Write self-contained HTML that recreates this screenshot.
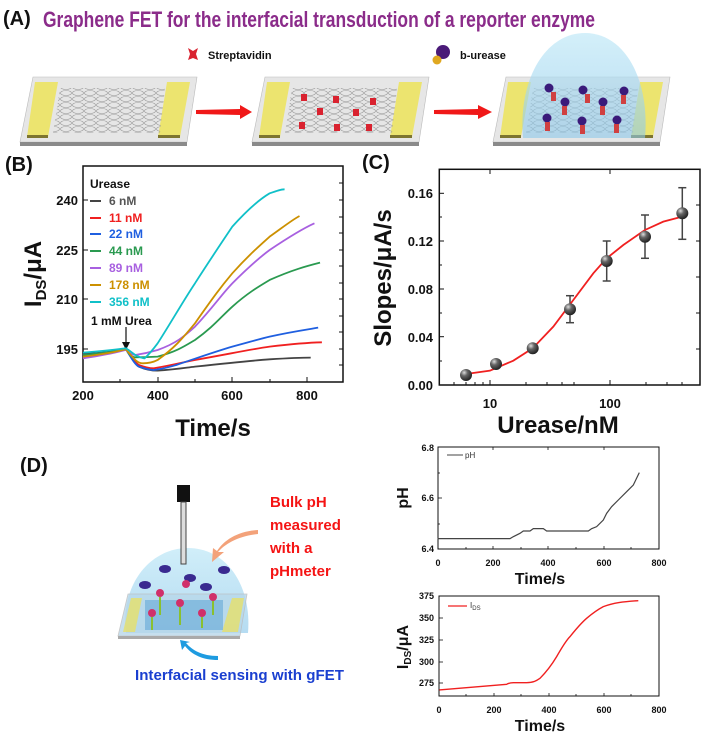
<!DOCTYPE html>
<html><head><meta charset="utf-8"><style>
html,body{margin:0;padding:0;background:#fff;}
svg{display:block;font-family:"Liberation Sans",sans-serif;}
.nb{vector-effect:non-scaling-stroke;fill:none;}
</style></head><body>
<svg width="707" height="736" viewBox="0 0 707 736" xmlns="http://www.w3.org/2000/svg">
<defs>
<pattern id="hex" width="12" height="6" patternUnits="userSpaceOnUse">
<ellipse cx="6" cy="3" rx="5.5" ry="2.5" fill="none" stroke="#999" stroke-width="0.6"/>
</pattern>
<radialGradient id="ball" cx="0.35" cy="0.3" r="0.7"><stop offset="0" stop-color="#ddd"/><stop offset="0.4" stop-color="#666"/><stop offset="1" stop-color="#222"/></radialGradient>
<linearGradient id="dome" x1="0" y1="0" x2="0" y2="1"><stop offset="0" stop-color="#bfe8f7" stop-opacity="0.85"/><stop offset="1" stop-color="#8cc8ea" stop-opacity="0.75"/></linearGradient>
</defs>

<!-- Panel A -->
<text x="3" y="25" font-size="20" font-weight="bold" fill="#111">(A)</text>
<text x="43" y="27" font-size="22" font-weight="bold" fill="#8b2c8a" textLength="552" lengthAdjust="spacingAndGlyphs">Graphene FET for the interfacial transduction of a reporter enzyme</text>

<g id="chip">
<polygon points="33,77 197,77 187,142 20,142" fill="#e6e6e6" stroke="#bbb" stroke-width="0.6"/>
<polygon points="20,142 187,142 187,146 20,146" fill="#8a8a8a"/>
<polygon points="35,82 58,82 48,137 27,137" fill="#ece46f"/>
<polygon points="27,135 48,135 48,138 27,138" fill="#7d7530"/>
<polygon points="167,82 190,82 180,137 158,137" fill="#ece46f"/>
<polygon points="158,135 180,135 180,138 158,138" fill="#7d7530"/>
<polygon points="60,88 165,88 160,133 53,133" fill="url(#hex)"/>
</g>
<use href="#chip" x="232"/>
<use href="#chip" x="473"/>

<!-- arrows -->
<polygon points="196,110 240,109 240,105 252,112 240,119 240,115 196,114" fill="#f01818"/>
<polygon points="434,110 478,109 478,105 492,112 478,119 478,115 434,114" fill="#f01818"/>

<!-- streptavidin -->
<g fill="#d9222f">
<polygon points="188,48 193,51 198,48 196,54 198,60 193,58 188,60 190,54"/>
<rect x="301" y="94" width="6" height="7"/><rect x="333" y="96" width="6" height="7"/><rect x="370" y="98" width="6" height="7"/>
<rect x="317" y="108" width="6" height="7"/><rect x="353" y="109" width="6" height="7"/>
<rect x="299" y="122" width="6" height="7"/><rect x="334" y="124" width="6" height="7"/><rect x="366" y="124" width="6" height="7"/>
</g>
<text x="208" y="59" font-size="11" font-weight="bold" fill="#111">Streptavidin</text>
<circle cx="443" cy="52" r="7" fill="#4a1a78"/><circle cx="437" cy="60" r="4.5" fill="#e0a820"/>
<text x="460" y="59" font-size="11" font-weight="bold" fill="#111">b-urease</text>
<!-- dome chip3 -->
<path d="M523,138 C518,80 545,33 585,33 C625,33 650,80 645,138 Z" fill="url(#dome)" opacity="0.8"/>
<g fill="#3a1a7a">
<circle cx="549" cy="88" r="4.5"/><circle cx="583" cy="90" r="4.5"/><circle cx="624" cy="91" r="4.5"/>
<circle cx="565" cy="102" r="4.5"/><circle cx="603" cy="102" r="4.5"/>
<circle cx="547" cy="118" r="4.5"/><circle cx="582" cy="121" r="4.5"/><circle cx="617" cy="120" r="4.5"/>
</g>
<g fill="#d04040">
<rect x="551" y="92" width="5" height="9"/><rect x="585" y="94" width="5" height="9"/><rect x="621" y="95" width="5" height="9"/>
<rect x="562" y="106" width="5" height="9"/><rect x="600" y="106" width="5" height="9"/>
<rect x="545" y="122" width="5" height="9"/><rect x="580" y="125" width="5" height="9"/><rect x="614" y="124" width="5" height="9"/>
</g>

<!-- Panel B -->
<text x="5" y="171" font-size="20" font-weight="bold" fill="#111">(B)</text>
<rect x="83" y="166" width="260" height="216" fill="none" stroke="#111" stroke-width="1.5"/>
<g stroke="#111" stroke-width="1">
<line x1="158" y1="382" x2="158" y2="377"/><line x1="232" y1="382" x2="232" y2="377"/><line x1="307" y1="382" x2="307" y2="377"/>
<line x1="120" y1="382" x2="120" y2="379"/><line x1="195" y1="382" x2="195" y2="379"/><line x1="270" y1="382" x2="270" y2="379"/>
<line x1="83" y1="200" x2="88" y2="200"/><line x1="83" y1="250" x2="88" y2="250"/><line x1="83" y1="299" x2="88" y2="299"/><line x1="83" y1="349" x2="88" y2="349"/>
<line x1="343" y1="183" x2="339" y2="183"/><line x1="343" y1="200" x2="339" y2="200"/><line x1="343" y1="217" x2="339" y2="217"/><line x1="343" y1="233" x2="339" y2="233"/><line x1="343" y1="250" x2="339" y2="250"/><line x1="343" y1="266" x2="339" y2="266"/><line x1="343" y1="283" x2="339" y2="283"/><line x1="343" y1="299" x2="339" y2="299"/><line x1="343" y1="316" x2="339" y2="316"/><line x1="343" y1="332" x2="339" y2="332"/><line x1="343" y1="349" x2="339" y2="349"/><line x1="343" y1="365" x2="339" y2="365"/>
</g>
<g font-size="13" font-weight="bold" fill="#111" text-anchor="end">
<text x="78" y="205">240</text><text x="78" y="255">225</text><text x="78" y="304">210</text><text x="78" y="354">195</text>
</g>
<g font-size="13" font-weight="bold" fill="#111" text-anchor="middle">
<text x="83" y="400">200</text><text x="158" y="400">400</text><text x="232" y="400">600</text><text x="307" y="400">800</text>
</g>
<text x="213" y="436" font-size="24" font-weight="bold" text-anchor="middle" fill="#111">Time/s</text>
<text transform="translate(41,274) rotate(-90)" font-size="24" font-weight="bold" text-anchor="middle" fill="#111">I<tspan font-size="15" dy="5">DS</tspan><tspan dy="-5">/μA</tspan></text>
<g font-size="12" font-weight="bold">
<text x="90" y="188" fill="#111">Urease</text>
<text x="109" y="205" fill="#555">6 nM</text>
<text x="109" y="222" fill="#f02020">11 nM</text>
<text x="109" y="238" fill="#1f5fe0">22 nM</text>
<text x="109" y="255" fill="#2a9a50">44 nM</text>
<text x="109" y="272" fill="#a860e0">89 nM</text>
<text x="109" y="289" fill="#cc9000">178 nM</text>
<text x="109" y="306" fill="#10c0c8">356 nM</text>
<text x="91" y="325" fill="#111" font-weight="bold" font-size="12">1 mM Urea</text>
</g>
<g stroke-width="2">
<line x1="90" y1="201" x2="101" y2="201" stroke="#444"/>
<line x1="90" y1="218" x2="101" y2="218" stroke="#f02020"/>
<line x1="90" y1="234" x2="101" y2="234" stroke="#1f5fe0"/>
<line x1="90" y1="251" x2="101" y2="251" stroke="#2a9a50"/>
<line x1="90" y1="268" x2="101" y2="268" stroke="#a860e0"/>
<line x1="90" y1="285" x2="101" y2="285" stroke="#cc9000"/>
<line x1="90" y1="302" x2="101" y2="302" stroke="#10c0c8"/>
</g>
<line x1="126" y1="327" x2="126" y2="343" stroke="#111" stroke-width="1.2"/>
<polygon points="122,342 130,342 126,350" fill="#111"/>
<g transform="translate(0,150) scale(0.3333) translate(25,0) scale(1.12,1)" stroke-width="1.8">
<path class="nb" stroke="#444" d="M200,612 C290,606 310,598 315,598 C330,620 340,645 350,650 C370,660 390,662 400,662 C450,658 470,654 500,650 C600,638 650,632 700,628 C760,624 790,623 810,623"/>
<path class="nb" stroke="#f02020" d="M200,620 C290,608 310,598 315,598 C330,620 340,640 350,645 C370,654 385,655 390,655 C450,643 470,636 500,630 C600,610 650,598 700,590 C760,582 800,578 840,577"/>
<path class="nb" stroke="#1f5fe0" d="M200,615 C290,606 310,598 315,598 C330,625 340,645 350,650 C370,658 385,660 390,660 C420,656 430,651 450,645 C530,615 560,603 600,590 C650,575 670,568 700,560 C760,545 800,539 830,533"/>
<path class="nb" stroke="#2a9a50" d="M200,615 C290,606 310,598 315,598 C325,615 330,622 340,622 C370,622 385,621 400,620 C450,605 470,590 500,570 C550,530 570,500 600,470 C640,430 670,410 700,390 C760,360 800,348 835,338"/>
<path class="nb" stroke="#a860e0" d="M200,625 C290,610 310,600 315,600 C325,610 330,615 340,615 C370,610 385,605 400,600 C450,580 470,560 500,530 C550,470 570,435 600,400 C640,355 670,325 700,300 C760,255 790,235 820,220"/>
<path class="nb" stroke="#cc9000" d="M200,620 C290,608 310,598 315,598 C335,625 345,640 360,640 C380,640 390,636 400,630 C450,590 470,560 500,520 C550,440 570,410 600,370 C640,320 670,290 700,260 C740,228 760,210 780,198"/>
<path class="nb" stroke="#10c0c8" d="M200,608 C290,600 310,595 315,595 C330,605 340,618 350,620 C358,624 362,625 365,625 C380,610 390,595 400,580 C440,510 470,450 500,400 C540,330 570,280 600,230 C640,180 670,150 700,130 C720,122 730,118 740,118"/>
</g>

<!-- Panel C -->
<g transform="translate(340,150)">
<text x="22" y="19" font-size="20" font-weight="bold" fill="#111">(C)</text>
<rect x="99.3" y="19.3" width="260.7" height="215.7" fill="none" stroke="#111" stroke-width="1.5"/>
<g stroke="#111" stroke-width="1">
<line x1="99" y1="43.3" x2="104" y2="43.3"/><line x1="99" y1="91" x2="104" y2="91"/><line x1="99" y1="139" x2="104" y2="139"/><line x1="99" y1="186.7" x2="104" y2="186.7"/>
<line x1="99" y1="67" x2="102" y2="67"/><line x1="99" y1="115" x2="102" y2="115"/><line x1="99" y1="163" x2="102" y2="163"/><line x1="99" y1="211" x2="102" y2="211"/>
<line x1="150" y1="235" x2="150" y2="230"/><line x1="270" y1="235" x2="270" y2="230"/>
<line x1="186" y1="235" x2="186" y2="232"/><line x1="207" y1="235" x2="207" y2="232"/><line x1="222" y1="235" x2="222" y2="232"/><line x1="234" y1="235" x2="234" y2="232"/><line x1="306" y1="235" x2="306" y2="232"/><line x1="327" y1="235" x2="327" y2="232"/><line x1="342" y1="235" x2="342" y2="232"/>
<line x1="114" y1="235" x2="114" y2="232"/><line x1="126" y1="235" x2="126" y2="232"/><line x1="135" y1="235" x2="135" y2="232"/><line x1="143" y1="235" x2="143" y2="232"/>
<line x1="150" y1="19" x2="150" y2="24"/><line x1="270" y1="19" x2="270" y2="24"/>
<line x1="360" y1="55" x2="356" y2="55"/><line x1="360" y1="91" x2="356" y2="91"/><line x1="360" y1="127" x2="356" y2="127"/><line x1="360" y1="163" x2="356" y2="163"/><line x1="360" y1="199" x2="356" y2="199"/>
</g>
<g font-size="13" font-weight="bold" fill="#111" text-anchor="end">
<text x="93" y="48">0.16</text><text x="93" y="96">0.12</text><text x="93" y="144">0.08</text><text x="93" y="192">0.04</text><text x="93" y="240">0.00</text>
</g>
<g font-size="13" font-weight="bold" fill="#111" text-anchor="middle">
<text x="150" y="258">10</text><text x="270" y="258">100</text>
</g>
<text x="218" y="283" font-size="24" font-weight="bold" text-anchor="middle" fill="#111">Urease/nM</text>
<text transform="translate(51,128) rotate(-90)" font-size="24" font-weight="bold" text-anchor="middle" fill="#111">Slopes/μA/s</text>
<g stroke="#444" stroke-width="1.5">
<line x1="230" y1="145.7" x2="230" y2="172.7"/><line x1="226" y1="145.7" x2="234" y2="145.7"/><line x1="226" y1="172.7" x2="234" y2="172.7"/>
<line x1="266.7" y1="91" x2="266.7" y2="131"/><line x1="262.7" y1="91" x2="270.7" y2="91"/><line x1="262.7" y1="131" x2="270.7" y2="131"/>
<line x1="305" y1="65" x2="305" y2="108.3"/><line x1="301" y1="65" x2="309" y2="65"/><line x1="301" y1="108.3" x2="309" y2="108.3"/>
<line x1="342.3" y1="37.7" x2="342.3" y2="89.3"/><line x1="338.3" y1="37.7" x2="346.3" y2="37.7"/><line x1="338.3" y1="89.3" x2="346.3" y2="89.3"/>
</g>
<g transform="scale(0.3333)">
<polyline class="nb" stroke="#f02020" stroke-width="1.8" points="378,672 450,662 520,632 578,595 640,530 700,450 760,370 800,325 850,285 915,240 970,215 1027,200"/>
</g>
<g fill="url(#ball)">
<circle cx="126" cy="225" r="6"/><circle cx="156" cy="214" r="6"/><circle cx="192.7" cy="198.3" r="6"/><circle cx="230" cy="159.3" r="6"/><circle cx="266.7" cy="111" r="6"/><circle cx="305" cy="86.7" r="6"/><circle cx="342.3" cy="63.3" r="6"/>
</g>
</g>

<!-- Panel D -->
<text x="20" y="472" font-size="20" font-weight="bold" fill="#111">(D)</text>
<path d="M126,633 C120,585 150,548 188,548 C226,548 252,585 248,633 Z" fill="url(#dome)" opacity="0.85"/>
<polygon points="128,594 247,594 240,636 118,636" fill="#b8d8ea" stroke="#bbb" stroke-width="0.8" opacity="0.8"/>
<polygon points="118,636 240,636 240,639 118,639" fill="#aaa"/>
<polygon points="131,598 142,598 135,632 123,632" fill="#e6e06a" opacity="0.8"/>
<polygon points="232,598 244,598 238,632 222,632" fill="#e6e06a" opacity="0.8"/>
<rect x="145" y="600" width="78" height="30" fill="#4a9ad0" opacity="0.45"/>
<g fill="#3a2a90"><ellipse cx="165" cy="569" rx="6" ry="4"/><ellipse cx="224" cy="570" rx="6" ry="4"/><ellipse cx="190" cy="578" rx="6" ry="4"/><ellipse cx="145" cy="585" rx="6" ry="4"/><ellipse cx="206" cy="587" rx="6" ry="4"/></g>
<g fill="#d0306a"><circle cx="160" cy="593" r="4"/><circle cx="180" cy="603" r="4"/><circle cx="152" cy="613" r="4"/><circle cx="202" cy="613" r="4"/><circle cx="213" cy="597" r="4"/><circle cx="186" cy="584" r="4"/></g>
<g stroke="#8ac030" stroke-width="2"><line x1="160" y1="597" x2="160" y2="615"/><line x1="180" y1="607" x2="180" y2="625"/><line x1="152" y1="617" x2="152" y2="630"/><line x1="202" y1="617" x2="202" y2="628"/><line x1="213" y1="601" x2="213" y2="615"/></g>
<rect x="177" y="485" width="13" height="17" fill="#111"/>
<rect x="181" y="502" width="5" height="62" fill="#ddd" stroke="#444" stroke-width="1"/>
<path d="M258,534 C238,536 225,544 218,552 L224,552 L212,562 L213,548 L217,551 C224,540 238,531 258,530 Z" fill="#f3a27a"/>
<path d="M218,656 C202,656 192,650 186,643 L190,642 L180,640 L182,650 L185,646 C192,655 203,660 218,660 Z" fill="#1e9be0"/>
<g font-size="15" font-weight="bold" fill="#f51414">
<text x="270" y="507">Bulk pH</text><text x="270" y="530">measured</text><text x="270" y="553">with a</text><text x="270" y="576">pHmeter</text>
</g>
<text x="135" y="680" font-size="15" font-weight="bold" fill="#1a3fd0" textLength="209" lengthAdjust="spacingAndGlyphs">Interfacial sensing with gFET</text>

<!-- pH plot -->
<rect x="438" y="447" width="221" height="102" fill="none" stroke="#111" stroke-width="1"/>
<g stroke="#111" stroke-width="0.8">
<line x1="438" y1="498" x2="442" y2="498"/><line x1="438" y1="473" x2="440" y2="473"/><line x1="438" y1="524" x2="440" y2="524"/>
<line x1="493" y1="549" x2="493" y2="546"/><line x1="548" y1="549" x2="548" y2="546"/><line x1="604" y1="549" x2="604" y2="546"/>
<line x1="466" y1="549" x2="466" y2="547"/><line x1="521" y1="549" x2="521" y2="547"/><line x1="576" y1="549" x2="576" y2="547"/><line x1="631" y1="549" x2="631" y2="547"/>
<line x1="493" y1="447" x2="493" y2="450"/><line x1="548" y1="447" x2="548" y2="450"/><line x1="604" y1="447" x2="604" y2="450"/>
</g>
<g font-size="9" font-weight="bold" fill="#111" text-anchor="end"><text x="434" y="451">6.8</text><text x="434" y="501">6.6</text><text x="434" y="552">6.4</text></g>
<g font-size="9" font-weight="bold" fill="#111" text-anchor="middle"><text x="438" y="566">0</text><text x="493" y="566">200</text><text x="548" y="566">400</text><text x="604" y="566">600</text><text x="659" y="566">800</text></g>
<text x="540" y="584" font-size="16" font-weight="bold" text-anchor="middle" fill="#111">Time/s</text>
<text transform="translate(408,498) rotate(-90)" font-size="16" font-weight="bold" text-anchor="middle" fill="#111">pH</text>
<line x1="447" y1="455" x2="463" y2="455" stroke="#444" stroke-width="1"/>
<text x="465" y="458" font-size="8" fill="#333">pH</text>
<g transform="translate(370,470) scale(0.3333)">
<polyline class="nb" stroke="#444" stroke-width="1.2" points="203,206 420,206 430,200 450,190 460,183 480,183 490,176 520,176 530,183 655,183 665,176 680,170 700,150 710,130 725,110 745,90 770,65 790,45 808,8"/>
</g>

<!-- IDS plot -->
<rect x="439" y="596" width="220" height="100" fill="none" stroke="#111" stroke-width="1"/>
<g stroke="#111" stroke-width="0.8">
<line x1="439" y1="618" x2="443" y2="618"/><line x1="439" y1="640" x2="443" y2="640"/><line x1="439" y1="662" x2="443" y2="662"/><line x1="439" y1="683" x2="443" y2="683"/>
<line x1="494" y1="696" x2="494" y2="693"/><line x1="549" y1="696" x2="549" y2="693"/><line x1="604" y1="696" x2="604" y2="693"/>
<line x1="466" y1="696" x2="466" y2="694"/><line x1="521" y1="696" x2="521" y2="694"/><line x1="576" y1="696" x2="576" y2="694"/><line x1="631" y1="696" x2="631" y2="694"/>
</g>
<g font-size="9" font-weight="bold" fill="#111" text-anchor="end"><text x="434" y="599">375</text><text x="434" y="621">350</text><text x="434" y="643">325</text><text x="434" y="665">300</text><text x="434" y="686">275</text></g>
<g font-size="9" font-weight="bold" fill="#111" text-anchor="middle"><text x="439" y="713">0</text><text x="494" y="713">200</text><text x="549" y="713">400</text><text x="604" y="713">600</text><text x="659" y="713">800</text></g>
<text x="540" y="731" font-size="16" font-weight="bold" text-anchor="middle" fill="#111">Time/s</text>
<text transform="translate(408,647) rotate(-90)" font-size="16" font-weight="bold" text-anchor="middle" fill="#111">I<tspan font-size="10" dy="3">DS</tspan><tspan dy="-3">/μA</tspan></text>
<line x1="448" y1="606" x2="467" y2="606" stroke="#f02020" stroke-width="1.2"/>
<text x="470" y="608" font-size="8" fill="#333">I<tspan font-size="6" dy="2">DS</tspan></text>
<g transform="translate(370,470) scale(0.3333)">
<path class="nb" stroke="#f02020" stroke-width="1.4" d="M208,660 L410,643 C415,640 420,638 430,638 L470,638 C490,638 500,632 510,625 C530,605 545,585 560,560 C580,525 590,510 600,500 C620,475 635,458 650,445 C670,428 685,418 700,410 C730,398 760,395 805,392"/>
</g>
</svg>
</body></html>
